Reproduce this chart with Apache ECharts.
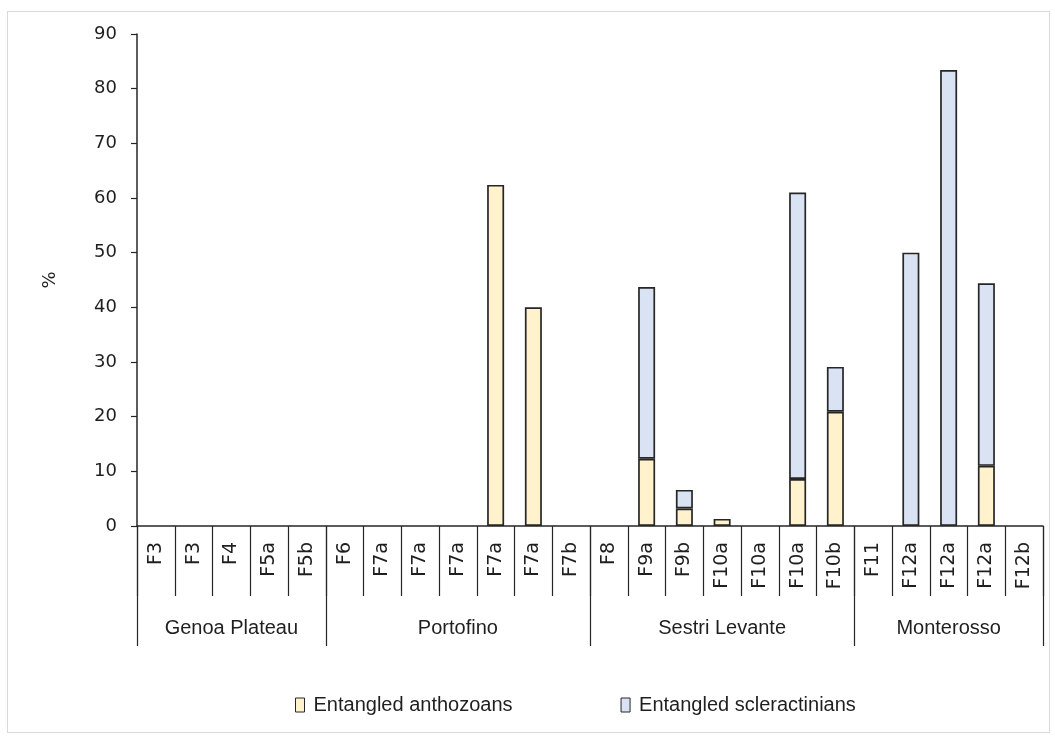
<!DOCTYPE html>
<html>
<head>
<meta charset="utf-8">
<script src="https://cdn.jsdelivr.net/npm/echarts@6/dist/echarts.min.js"></script>
<style>
  html, body { margin: 0; padding: 0; background: #fff; }
  #frame { position: absolute; left: 7px; top: 11px; width: 1043px; height: 722px; border: 1px solid #d9d9d9; box-sizing: border-box; }
  #chart { position: absolute; left: 0; top: 0; width: 1055px; height: 739px; }
</style>
</head>
<body>
<div id="frame"></div>
<div id="chart"></div>
<script>
// ---- data ----
const sites = ['F3','F3','F4','F5a','F5b',
               'F6','F7a','F7a','F7a','F7a','F7a','F7b',
               'F8','F9a','F9b','F10a','F10a','F10a','F10b',
               'F11','F12a','F12a','F12a','F12b'];
const groupNames = ['Genoa Plateau', 'Portofino', 'Sestri Levante', 'Monterosso'];
const groupSizes = [5, 7, 7, 5];
const anthozoans = [0,0,0,0,0,
                    0,0,0,0,62.4,40,0,
                    0,12.3,3.2,1.3,0,8.6,20.9,
                    0,0,0,11.0,0];
const scleractinians = [0,0,0,0,0,
                        0,0,0,0,0,0,0,
                        0,31.4,3.4,0,0,52.4,8.2,
                        0,50.0,83.4,33.4,0];
const yTicks = { min: 0, max: 90, interval: 10 };

// group boundaries / centres on a 0..24 scale
const bounds = [0];
groupSizes.forEach(s => bounds.push(bounds[bounds.length - 1] + s));
const centres = groupSizes.map((s, i) => bounds[i] + s / 2);

const nz = v => (v === 0 ? null : v);
const chart = echarts.init(document.getElementById('chart'), null, { renderer: 'canvas' });
const lineCol = '#262626';
const txtCol = '#1f1f1f';
const fontTick = 'DejaVu Sans';
const fontText = 'Liberation Sans';

chart.setOption({
  animation: false,
  backgroundColor: 'transparent',
  grid: { left: 137, right: 12, top: 34, bottom: 213, containLabel: false },
  legend: {
    left: 290, top: 690,
    icon: 'rect', itemWidth: 9, itemHeight: 14, itemGap: 108,
    itemStyle: { borderColor: lineCol, borderWidth: 1 },
    textStyle: { fontFamily: fontText, fontSize: 20, color: txtCol, padding: [0, 0, 0, 4] },
    data: ['Entangled anthozoans', 'Entangled scleractinians']
  },
  xAxis: [
    {
      type: 'category', data: sites, boundaryGap: true,
      axisLine: { lineStyle: { color: lineCol, width: 1.5 } },
      axisTick: { show: true, interval: 0, length: 70, lineStyle: { color: lineCol, width: 1.2 } },
      axisLabel: { interval: 0, rotate: 90, margin: 16, fontFamily: fontTick, fontSize: 19, color: txtCol },
      splitLine: { show: false }
    },
    {
      type: 'value', min: 0, max: 24, position: 'bottom',
      axisLine: { show: false },
      axisTick: { show: true, customValues: bounds, length: 120, lineStyle: { color: lineCol, width: 1.2 } },
      axisLabel: {
        customValues: centres, margin: 92, fontFamily: fontText, fontSize: 20, color: txtCol,
        formatter: v => groupNames[centres.indexOf(v)] || ''
      },
      splitLine: { show: false }
    }
  ],
  yAxis: {
    type: 'value', min: yTicks.min, max: yTicks.max, interval: yTicks.interval,
    name: '%', nameLocation: 'middle', nameGap: 78, nameRotate: 90,
    nameTextStyle: { fontFamily: fontTick, fontSize: 18, color: txtCol },
    axisLine: { show: true, lineStyle: { color: lineCol, width: 1.5 } },
    axisTick: { show: true, length: 6, lineStyle: { color: lineCol, width: 1.2 } },
    axisLabel: { margin: 20, fontFamily: fontTick, fontSize: 18, color: txtCol },
    splitLine: { show: false }
  },
  series: [
    {
      name: 'Entangled anthozoans', type: 'bar', stack: 'a', barWidth: 17,
      itemStyle: { color: '#FFF2CC', borderColor: lineCol, borderWidth: 1.7 },
      data: anthozoans.map(nz)
    },
    {
      name: 'Entangled scleractinians', type: 'bar', stack: 'a', barWidth: 17,
      itemStyle: { color: '#DAE3F3', borderColor: lineCol, borderWidth: 1.7 },
      data: scleractinians.map(nz)
    }
  ]
});
</script>
</body>
</html>
